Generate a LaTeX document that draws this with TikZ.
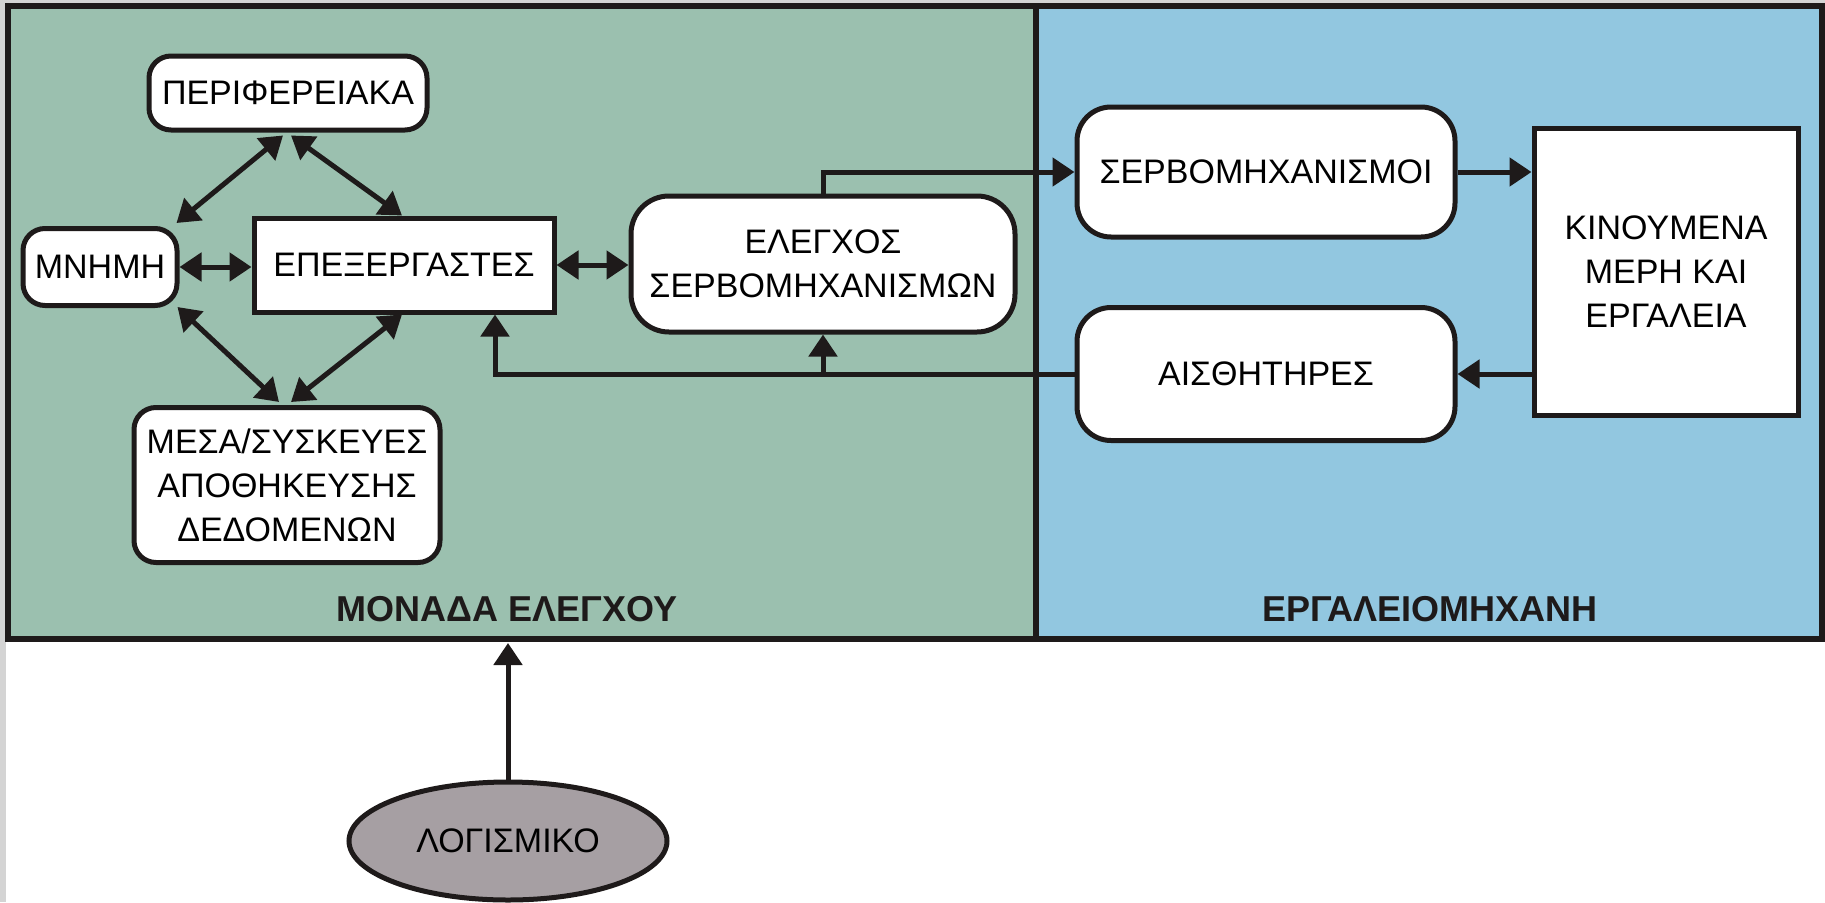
\documentclass[tikz,border=0pt]{standalone}
\usepackage{fontspec}
\setmainfont{Liberation Sans}
\usetikzlibrary{arrows.meta,calc,shapes.geometric}
\definecolor{panelgreen}{RGB}{155,192,175}
\definecolor{panelblue}{RGB}{146,199,224}
\definecolor{softgrey}{RGB}{166,159,163}
\definecolor{stripgrey}{RGB}{212,212,212}
\definecolor{inkblack}{RGB}{30,26,26}
\tikzset{
  x=1pt, y=-1pt,
  base/.style={draw=inkblack, line width=5pt, fill=white, inner sep=0pt, align=center,
    font=\fontsize{34}{44}\selectfont},
  rbox/.style={base, rounded corners=22pt},
  sbox/.style={base},
  arr/.style={draw=inkblack, line width=5pt, -{Triangle[length=22pt,width=28pt]}},
  biarr/.style={draw=inkblack, line width=5pt, {Triangle[length=22pt,width=28pt]}-{Triangle[length=22pt,width=28pt]}},
  paneltitle/.style={font=\fontsize{36}{42}\selectfont\bfseries, text=inkblack},
}
\begin{document}
\begin{tikzpicture}
\useasboundingbox (0,0) rectangle (1825,902);
\fill[white] (0,0) rectangle (1825,902);
\fill[stripgrey] (0,0) rectangle (6,902);
\fill[stripgrey] (0,0) rectangle (1825,5);
% panels
\fill[panelgreen] (8,6) rectangle (1036,639);
\fill[panelblue] (1036,6) rectangle (1822,639);
\draw[inkblack, line width=5.5pt] (8,6) rectangle (1822,639);
\draw[inkblack, line width=5.5pt] (1036,6) -- (1036,639);
\node[paneltitle] (tcu) at (507,609) {ΜΟΝΑΔΑ ΕΛΕΓΧΟΥ};
\node[paneltitle] (tmt) at (1430,609) {ΕΡΓΑΛΕΙΟΜΗΧΑΝΗ};
% nodes
\node[rbox, minimum width=278pt, minimum height=74pt] (periph) at (288,93) {ΠΕΡΙΦΕΡΕΙΑΚΑ};
\node[rbox, minimum width=154pt, minimum height=77pt] (mnimi) at (100,267) {ΜΝΗΜΗ};
\node[sbox, minimum width=300pt, minimum height=94pt] (epex) at (404,265) {ΕΠΕΞΕΡΓΑΣΤΕΣ};
\node[rbox, minimum width=306pt, minimum height=155pt] (mesa) at (287,485) {ΜΕΣΑ/ΣΥΣΚΕΥΕΣ\\ΑΠΟΘΗΚΕΥΣΗΣ\\ΔΕΔΟΜΕΝΩΝ};
\node[rbox, rounded corners=38pt, minimum width=384pt, minimum height=136pt] (elegxos) at (823,264) {ΕΛΕΓΧΟΣ\\ΣΕΡΒΟΜΗΧΑΝΙΣΜΩΝ};
\node[rbox, rounded corners=34pt, minimum width=378pt, minimum height=130pt] (servo) at (1266,172) {ΣΕΡΒΟΜΗΧΑΝΙΣΜΟΙ};
\node[rbox, rounded corners=34pt, minimum width=378pt, minimum height=133pt] (aisth) at (1266,374) {ΑΙΣΘΗΤΗΡΕΣ};
\node[sbox, minimum width=264pt, minimum height=287pt] (kin) at (1666,272) {ΚΙΝΟΥΜΕΝΑ\\ΜΕΡΗ ΚΑΙ\\ΕΡΓΑΛΕΙΑ};
\node[draw=inkblack, line width=5pt, fill=softgrey, ellipse, minimum width=318pt, minimum height=118pt,
  inner sep=0pt, font=\fontsize{34}{40}\selectfont] (logis) at (508,841) {ΛΟΓΙΣΜΙΚΟ};
\coordinate (fbx) at (495,0);
\coordinate (framebottom) at (508,643);
% connectors
\draw[biarr] ($(periph.south)+(-5,3)$) -- ($(mnimi.north east)+(-3,-3)$);
\draw[biarr] ($(periph.south)+(3,3)$) -- ($(epex.north)+(-2,0)$);
\draw[biarr] (mnimi.east) -- (mnimi.east -| epex.west);
\draw[biarr] ($(mnimi.south east)+(-2,-1)$) -- ($(mesa.north)+(-8,-3)$);
\draw[biarr] ($(epex.south)+(-2,0)$) -- ($(mesa.north)+(4,-3)$);
\draw[biarr] (epex.east) -- (epex.east -| elegxos.west);
\draw[arr] (elegxos.north) |- (servo.west);
\draw[arr] (servo.east) -- (servo.east -| kin.west);
\draw[arr] (aisth.east -| kin.west) -- (aisth.east);
\draw[arr] (aisth.west) -| (epex.south -| fbx);
\draw[arr] (aisth.west -| elegxos.south) -- (elegxos.south);
\draw[arr] (logis.north) -- (framebottom);
\end{tikzpicture}
\end{document}
